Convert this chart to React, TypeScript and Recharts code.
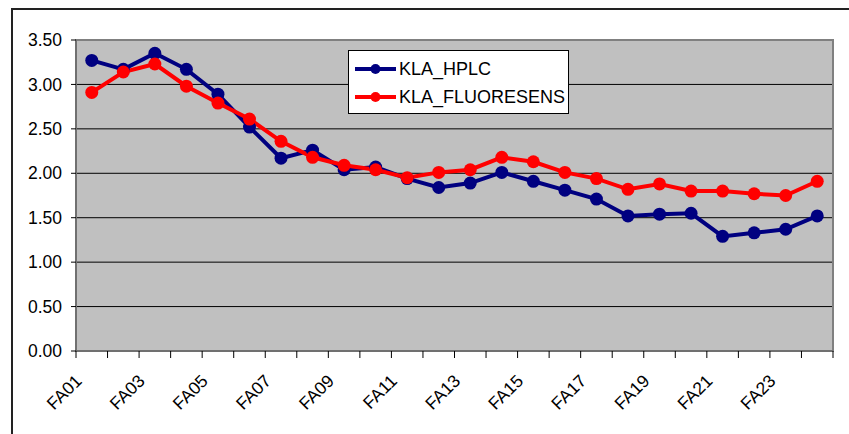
import React from 'react';
import {
  LineChart,
  Line,
  XAxis,
  YAxis,
  CartesianGrid,
  Legend,
  ReferenceArea,
} from 'recharts';

const FONT = '"Liberation Sans", Arial, sans-serif';

const categories = [
  'FA01', 'FA02', 'FA03', 'FA04', 'FA05', 'FA06', 'FA07', 'FA08',
  'FA09', 'FA10', 'FA11', 'FA12', 'FA13', 'FA14', 'FA15', 'FA16',
  'FA17', 'FA18', 'FA19', 'FA20', 'FA21', 'FA22', 'FA23', 'FA24',
];

const hplc = [
  3.27, 3.17, 3.35, 3.17, 2.89, 2.52, 2.17, 2.26, 2.04, 2.07, 1.94, 1.84,
  1.89, 2.01, 1.91, 1.81, 1.71, 1.52, 1.54, 1.55, 1.29, 1.33, 1.37, 1.52,
];

const fluoresens = [
  2.91, 3.14, 3.23, 2.98, 2.79, 2.61, 2.36, 2.18, 2.09, 2.04, 1.95, 2.01,
  2.04, 2.18, 2.13, 2.01, 1.94, 1.82, 1.88, 1.80, 1.80, 1.77, 1.75, 1.91,
];

const yTicks = [0, 0.5, 1, 1.5, 2, 2.5, 3, 3.5];

const series = [
  { key: 'hplc', name: 'KLA_HPLC', color: '#000080' },
  { key: 'fluoresens', name: 'KLA_FLUORESENS', color: '#FF0000' },
];

// each category sits in the middle of its slot, slot edges get the tick marks
const data = categories.map((name, i) => ({
  name,
  pos: i + 0.5,
  hplc: hplc[i],
  fluoresens: fluoresens[i],
}));

const slotEdges = categories.map((_, i) => i).concat(categories.length);
const labelTicks = categories.map((_, i) => i + 0.5).filter((_, i) => i % 2 === 0);
const xTicks = [...slotEdges, ...labelTicks].sort((a, b) => a - b);

// integer ticks -> short tick mark, half ticks -> slanted category name
const renderXTick = (props: any) => {
  const { x, y, payload } = props;
  const v = payload.value;
  if (Number.isInteger(v)) {
    return <line x1={x} y1={y} x2={x} y2={y + 7} stroke="#000" strokeWidth={1} />;
  }
  const ax = x - 9;
  const ay = y + 31;
  return (
    <g transform={`matrix(0.7071 -0.7071 0.7071 0.7071 ${ax} ${ay})`}>
      <text x={0} y={0} textAnchor="end" fontSize={17.5} fontFamily={FONT} fill="#000">
        {categories[Math.floor(v)]}
      </text>
    </g>
  );
};

const LegendBox = () => (
  <div
    style={{
      boxSizing: 'border-box',
      width: 221,
      height: 64,
      background: '#fff',
      border: '1px solid #000',
      padding: '4px 0 0 6px',
      fontFamily: FONT,
      fontSize: 18,
      color: '#000',
    }}
  >
    {series.map((s) => (
      <div key={s.key} style={{ display: 'flex', alignItems: 'center', height: 28 }}>
        <svg width={42} height={14} style={{ marginRight: 2 }}>
          <line x1={0} y1={7} x2={41} y2={7} stroke={s.color} strokeWidth={4} />
          <circle cx={20.5} cy={7} r={5} fill={s.color} />
        </svg>
        <span>{s.name}</span>
      </div>
    ))}
  </div>
);

const App: React.FC = () => (
  <div
    style={{
      position: 'absolute',
      left: 0,
      top: 0,
      width: 849,
      height: 434,
      overflow: 'hidden',
      background: '#fff',
    }}
  >
    <div
      style={{
        position: 'absolute',
        left: 11,
        top: 8,
        width: 900,
        height: 500,
        border: '2px solid #222',
      }}
    />
    <div style={{ position: 'absolute', left: 0, top: 0 }}>
      <LineChart
        width={849}
        height={434}
        data={data}
        margin={{ top: 40, right: 16, left: 0, bottom: 0 }}
      >
        <CartesianGrid vertical={false} stroke="#000" fill="#C0C0C0" fillOpacity={1} />
        <XAxis
          dataKey="pos"
          type="number"
          domain={[0, categories.length]}
          ticks={xTicks}
          interval={0}
          height={83}
          tickSize={0}
          tickMargin={0}
          tick={renderXTick}
          tickLine={false}
          axisLine={{ stroke: '#606060' }}
        />
        <YAxis
          domain={[0, 3.5]}
          ticks={yTicks}
          interval={0}
          width={76}
          tickSize={5}
          tickMargin={9}
          tickFormatter={(v: number) => v.toFixed(2)}
          tick={{ fill: '#000', fontSize: 17.5, fontFamily: FONT }}
          tickLine={{ stroke: '#000' }}
          axisLine={{ stroke: '#606060' }}
        />
        <ReferenceArea
          x1={0}
          x2={categories.length}
          y1={0}
          y2={3.5}
          fill="none"
          stroke="#808080"
          strokeWidth={2}
        />
        <Legend
          layout="vertical"
          align="center"
          verticalAlign="middle"
          wrapperStyle={{ left: 348, top: 50, width: 221, height: 64 }}
          content={<LegendBox />}
        />
        {series.map((s) => (
          <Line
            key={s.key}
            dataKey={s.key}
            name={s.name}
            type="linear"
            stroke={s.color}
            strokeWidth={4}
            dot={{ r: 6.5, fill: s.color, stroke: s.color, strokeWidth: 0 }}
            activeDot={false}
            isAnimationActive={false}
          />
        ))}
      </LineChart>
    </div>
  </div>
);

export default App;
